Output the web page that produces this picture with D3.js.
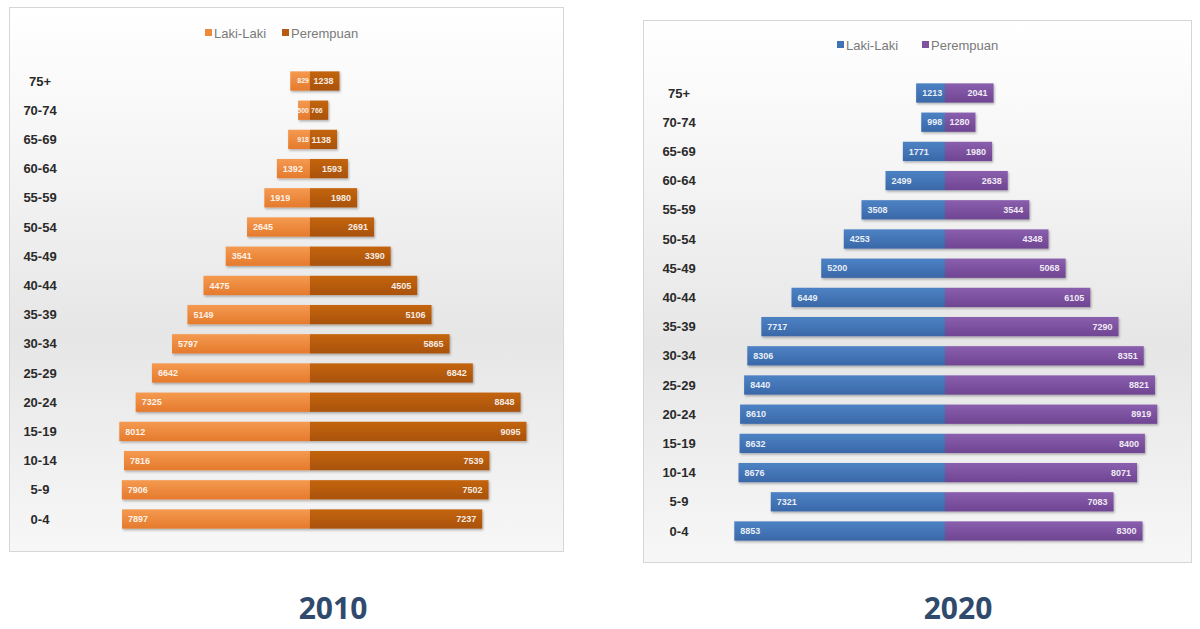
<!DOCTYPE html>
<html>
<head>
<meta charset="utf-8">
<script src="https://cdn.jsdelivr.net/npm/d3@7"></script>
<style>
  html, body { margin: 0; padding: 0; background: #ffffff; }
  svg { display: block; }
</style>
</head>
<body>
<svg id="chart" width="1200" height="629"></svg>
<script>
// ---------- DATA ----------
const ageGroups = ["75+", "70-74", "65-69", "60-64", "55-59", "50-54", "45-49", "40-44",
                   "35-39", "30-34", "25-29", "20-24", "15-19", "10-14", "5-9", "0-4"];
const seriesNames = ["Laki-Laki", "Perempuan"];
const years = ["2010", "2020"];

const male2010   = [829, 500, 918, 1392, 1919, 2645, 3541, 4475, 5149, 5797, 6642, 7325, 8012, 7816, 7906, 7897];
const female2010 = [1238, 766, 1138, 1593, 1980, 2691, 3390, 4505, 5106, 5865, 6842, 8848, 9095, 7539, 7502, 7237];

const male2020   = [1213, 998, 1771, 2499, 3508, 4253, 5200, 6449, 7717, 8306, 8440, 8610, 8632, 8676, 7321, 8853];
const female2020 = [2041, 1280, 1980, 2638, 3544, 4348, 5068, 6105, 7290, 8351, 8821, 8919, 8400, 8071, 7083, 8300];

// ---------- DRAW ----------
const svg = d3.select("#chart");
const defs = svg.append("defs");

const bgGrad = defs.append("linearGradient").attr("id", "bg").attr("x1", 0).attr("y1", 0).attr("x2", 0).attr("y2", 1);
bgGrad.append("stop").attr("offset", "0%").attr("stop-color", "#ffffff");
bgGrad.append("stop").attr("offset", "25%").attr("stop-color", "#f6f6f6");
bgGrad.append("stop").attr("offset", "60%").attr("stop-color", "#e6e6e6");
bgGrad.append("stop").attr("offset", "100%").attr("stop-color", "#f7f7f7");

const shadow = defs.append("filter").attr("id", "shadow").attr("x", "-10%").attr("y", "-30%").attr("width", "120%").attr("height", "180%");
shadow.append("feDropShadow").attr("dx", 1).attr("dy", 1.5).attr("stdDeviation", 1.2).attr("flood-color", "#000").attr("flood-opacity", 0.3);

function makeGrad(id, c1, c2) {
  const g = defs.append("linearGradient").attr("id", id).attr("x1", 0).attr("y1", 0).attr("x2", 0).attr("y2", 1);
  g.append("stop").attr("offset", "0%").attr("stop-color", c1);
  g.append("stop").attr("offset", "100%").attr("stop-color", c2);
}
makeGrad("m2010", "#f49a50", "#e57a2c");
makeGrad("f2010", "#c4650f", "#a9520c");
makeGrad("m2020", "#4d82c4", "#3a68a8");
makeGrad("f2020", "#8a5fae", "#6f4592");

const panels = [
  { year: years[0], male: male2010, female: female2010,
    frame: [9, 7, 554, 544], center: 310, firstY: 81, lastY: 519, labelX: 40,
    legendY: 33, legendX: 205, mFill: "url(#m2010)", fFill: "url(#f2010)",
    mKey: "#ee8a3c", fKey: "#b85a12", titleX: 333 },
  { year: years[1], male: male2020, female: female2020,
    frame: [643, 20, 548, 542], center: 945, firstY: 93, lastY: 531, labelX: 679,
    legendY: 45, legendX: 837, mFill: "url(#m2020)", fFill: "url(#f2020)",
    mKey: "#3f73b5", fKey: "#7d53a0", titleX: 958 }
];

const pxPerUnit = 0.0238;
const font = "'Liberation Sans Narrow', 'Arial Narrow', 'Liberation Sans', sans-serif";

panels.forEach(p => {
  const g = svg.append("g");
  const [fx, fy, fw, fh] = p.frame;
  g.append("rect").attr("x", fx + 0.5).attr("y", fy + 0.5).attr("width", fw).attr("height", fh)
    .attr("fill", "url(#bg)").attr("stroke", "#d6d6d6").attr("stroke-width", 1);

  const step = (p.lastY - p.firstY) / (ageGroups.length - 1);
  const y = d3.scaleBand().domain(ageGroups)
    .range([p.firstY - step / 2, p.lastY + step / 2])
    .paddingInner(0.34).paddingOuter(0.17);

  const xMale = d3.scaleLinear().domain([0, 10000]).range([p.center, p.center - 10000 * pxPerUnit]);
  const xFemale = d3.scaleLinear().domain([0, 10000]).range([p.center, p.center + 10000 * pxPerUnit]);

  const rows = ageGroups.map((a, i) => ({ age: a, m: p.male[i], f: p.female[i] }));
  const small = v => v * pxPerUnit < 22;

  // bars
  g.selectAll(".mbar").data(rows).join("rect")
    .attr("x", d => xMale(d.m)).attr("y", d => y(d.age))
    .attr("width", d => xMale(0) - xMale(d.m)).attr("height", y.bandwidth())
    .attr("fill", p.mFill).attr("filter", "url(#shadow)");
  g.selectAll(".fbar").data(rows).join("rect")
    .attr("x", xFemale(0)).attr("y", d => y(d.age))
    .attr("width", d => xFemale(d.f) - xFemale(0)).attr("height", y.bandwidth())
    .attr("fill", p.fFill).attr("filter", "url(#shadow)");

  // value labels
  g.selectAll(".mlab").data(rows).join("text")
    .attr("x", d => small(d.m) ? xMale(0) - 1 : xMale(d.m) + 6)
    .attr("y", d => y(d.age) + y.bandwidth() / 2)
    .attr("dy", "0.35em").attr("text-anchor", d => small(d.m) ? "end" : "start")
    .attr("font-family", font).attr("font-size", d => small(d.m) ? 7 : 9).attr("font-weight", "bold")
    .attr("fill", "#ffffff").attr("fill-opacity", 0.9)
    .text(d => d.m);
  g.selectAll(".flab").data(rows).join("text")
    .attr("x", d => small(d.f) ? xFemale(0) + 1 : xFemale(d.f) - 6)
    .attr("y", d => y(d.age) + y.bandwidth() / 2)
    .attr("dy", "0.35em").attr("text-anchor", d => small(d.f) ? "start" : "end")
    .attr("font-family", font).attr("font-size", d => small(d.f) ? 7 : 9).attr("font-weight", "bold")
    .attr("fill", "#ffffff").attr("fill-opacity", 0.9)
    .text(d => d.f);

  // category labels
  g.selectAll(".cat").data(ageGroups).join("text")
    .attr("x", p.labelX).attr("y", d => y(d) + y.bandwidth() / 2)
    .attr("dy", "0.35em").attr("text-anchor", "middle")
    .attr("font-family", font).attr("font-size", 13).attr("font-weight", "bold")
    .attr("fill", "#2a2a2a")
    .text(d => d);

  // legend
  const lg = g.append("g").attr("transform", `translate(${p.legendX},${p.legendY})`);
  const keys = [
    { name: seriesNames[0], color: p.mKey, x: 0 },
    { name: seriesNames[1], color: p.fKey, x: p.year === "2010" ? 77 : 85 }
  ];
  keys.forEach(k => {
    lg.append("rect").attr("x", k.x).attr("y", -4).attr("width", 7).attr("height", 7).attr("fill", k.color);
    lg.append("text").attr("x", k.x + 9).attr("y", 0).attr("dy", "0.35em")
      .attr("font-family", font).attr("font-size", 13).attr("fill", "#7a7a7a")
      .text(k.name);
  });

  // year title
  svg.append("text").attr("x", p.titleX).attr("y", 619).attr("text-anchor", "middle")
    .attr("font-family", "'Open Sans', 'Liberation Sans', sans-serif").attr("font-size", 30).attr("font-weight", "bold")
    .attr("fill", "#2f4a6d")
    .text(p.year);
});
</script>
</body>
</html>
